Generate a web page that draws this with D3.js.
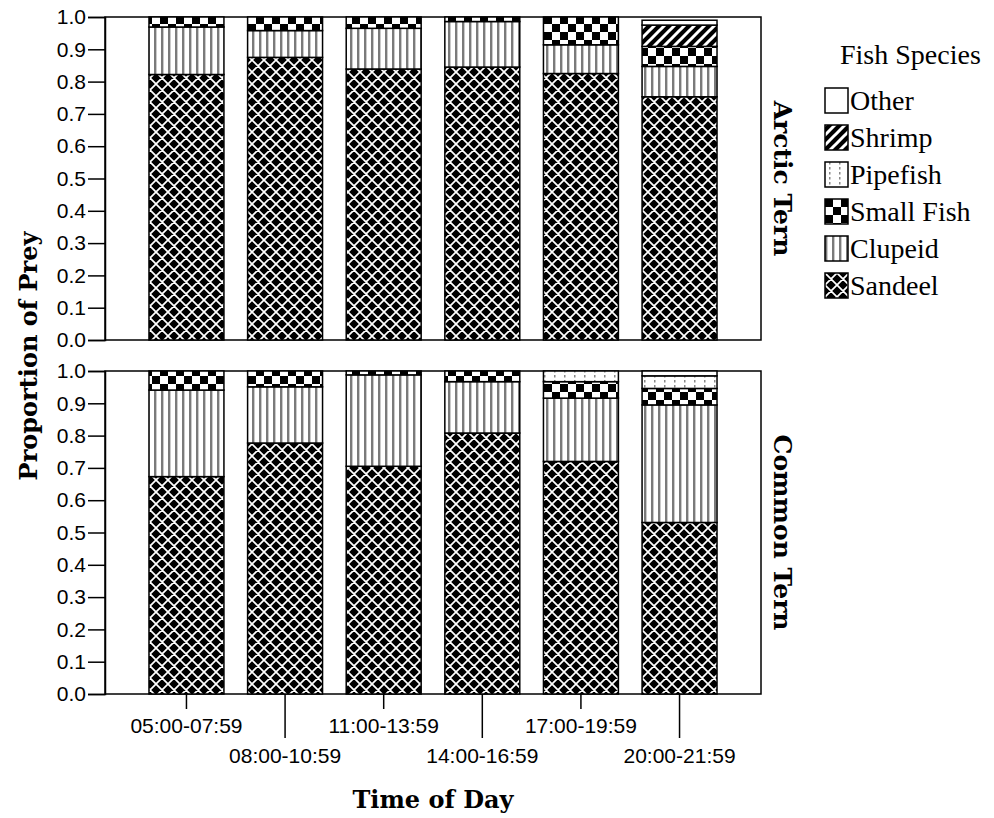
<!DOCTYPE html>
<html>
<head>
<meta charset="utf-8">
<script src="https://cdn.jsdelivr.net/npm/d3@7/dist/d3.min.js"></script>
<style>
  html, body { margin: 0; padding: 0; background: #fff; }
  svg { display: block; }
</style>
</head>
<body>
<svg id="chart" width="994" height="818"></svg>
<script>
// ---------- data ----------
const categories = ["05:00-07:59", "08:00-10:59", "11:00-13:59", "14:00-16:59", "17:00-19:59", "20:00-21:59"];
const species = ["Sandeel", "Clupeid", "Small Fish", "Pipefish", "Shrimp", "Other"];
const legendOrder = ["Other", "Shrimp", "Pipefish", "Small Fish", "Clupeid", "Sandeel"];
const panels = ["Arctic Tern", "Common Tern"];
const yTicks = [0, 0.1, 0.2, 0.3, 0.4, 0.5, 0.6, 0.7, 0.8, 0.9, 1.0];

// Arctic Tern proportions (per time band)
const arcticSandeel   = [0.822, 0.875, 0.839, 0.845, 0.825, 0.753];
const arcticClupeid   = [0.147, 0.083, 0.126, 0.141, 0.089, 0.094];
const arcticSmallFish = [0.031, 0.042, 0.035, 0.014, 0.086, 0.062];
const arcticPipefish  = [0, 0, 0, 0, 0, 0];
const arcticShrimp    = [0, 0, 0, 0, 0, 0.066];
const arcticOther     = [0, 0, 0, 0, 0, 0.015];

// Common Tern proportions
const commonSandeel   = [0.673, 0.777, 0.705, 0.808, 0.720, 0.531];
const commonClupeid   = [0.268, 0.174, 0.283, 0.159, 0.196, 0.364];
const commonSmallFish = [0.059, 0.049, 0.012, 0.033, 0.051, 0.051];
const commonPipefish  = [0, 0, 0, 0, 0.033, 0.039];
const commonShrimp    = [0, 0, 0, 0, 0, 0];
const commonOther     = [0, 0, 0, 0, 0, 0.015];

// ---------- build tables ----------
function buildRows(s) {
  return categories.map((c, i) => ({
    time: c,
    "Sandeel": s[0][i], "Clupeid": s[1][i], "Small Fish": s[2][i],
    "Pipefish": s[3][i], "Shrimp": s[4][i], "Other": s[5][i]
  }));
}
const tables = {
  "Arctic Tern": buildRows([arcticSandeel, arcticClupeid, arcticSmallFish, arcticPipefish, arcticShrimp, arcticOther]),
  "Common Tern": buildRows([commonSandeel, commonClupeid, commonSmallFish, commonPipefish, commonShrimp, commonOther])
};

// ---------- layout ----------
const svg = d3.select("#chart");
const left = 105, right = 761;
const panelBox = {
  "Arctic Tern": { top: 17, bottom: 340 },
  "Common Tern": { top: 371, bottom: 694 }
};
const tickFont = "'Liberation Sans', Arial, sans-serif";
const serifFont = "'DejaVu Serif', serif";
const legendFont = "'Liberation Serif', 'Times New Roman', serif";

// ---------- patterns ----------
const defs = svg.append("defs");
// Sandeel: black with white diamond lattice
(function () {
  const p = defs.append("pattern").attr("id", "pat-Sandeel")
    .attr("patternUnits", "userSpaceOnUse").attr("width", 12).attr("height", 12);
  p.append("rect").attr("width", 12).attr("height", 12).attr("fill", "#000");
  p.append("path").attr("d", "M0,0L12,12M12,0L0,12M-6,6L0,0M6,-6L0,0M12,12L18,6M6,18L12,12")
    .attr("stroke", "#fff").attr("stroke-width", 1.7).attr("fill", "none");
})();
// Clupeid: vertical stripes
(function () {
  const p = defs.append("pattern").attr("id", "pat-Clupeid")
    .attr("patternUnits", "userSpaceOnUse").attr("width", 7).attr("height", 7);
  p.append("rect").attr("width", 7).attr("height", 7).attr("fill", "#fff");
  p.append("rect").attr("x", 0).attr("width", 2.4).attr("height", 7).attr("fill", "#7a7a7a");
})();
// Small fish: checkerboard
(function () {
  const s = 8;
  const p = defs.append("pattern").attr("id", "pat-SmallFish")
    .attr("patternUnits", "userSpaceOnUse").attr("width", 2 * s).attr("height", 2 * s);
  p.append("rect").attr("width", 2 * s).attr("height", 2 * s).attr("fill", "#fff");
  p.append("rect").attr("width", s).attr("height", s).attr("fill", "#000");
  p.append("rect").attr("x", s).attr("y", s).attr("width", s).attr("height", s).attr("fill", "#000");
})();
// Pipefish: dotted vertical lines
(function () {
  const p = defs.append("pattern").attr("id", "pat-Pipefish")
    .attr("patternUnits", "userSpaceOnUse").attr("width", 10).attr("height", 5);
  p.append("rect").attr("width", 10).attr("height", 5).attr("fill", "#fff");
  p.append("rect").attr("x", 4).attr("y", 0).attr("width", 1.5).attr("height", 2.5).attr("fill", "#888");
})();
// Shrimp: black with white diagonal stripes
(function () {
  const p = defs.append("pattern").attr("id", "pat-Shrimp")
    .attr("patternUnits", "userSpaceOnUse").attr("width", 10).attr("height", 10);
  p.append("rect").attr("width", 10).attr("height", 10).attr("fill", "#000");
  p.append("path").attr("d", "M-2,12L12,-2M-7,7L7,-7M3,17L17,3")
    .attr("stroke", "#fff").attr("stroke-width", 3);
})();
const fillFor = sp => sp === "Other" ? "#fff" : `url(#pat-${sp.replace(" ", "")})`;

// ---------- scales ----------
const x = d3.scaleBand().domain(categories).range([left, right])
  .paddingInner(0.24).paddingOuter(0.446);
const stack = d3.stack().keys(species);

panels.forEach((name, pi) => {
  const box = panelBox[name];
  const y = d3.scaleLinear().domain([0, 1]).range([box.bottom, box.top]);
  const g = svg.append("g");

  // frame
  g.append("rect").attr("x", left).attr("y", box.top)
    .attr("width", right - left).attr("height", box.bottom - box.top)
    .attr("fill", "none").attr("stroke", "#000").attr("stroke-width", 1.5);

  // bars
  const series = stack(tables[name]);
  series.forEach(s => {
    g.append("g").selectAll("rect")
      .data(s.filter(d => d[1] - d[0] > 0))
      .join("rect")
      .attr("x", d => x(d.data.time))
      .attr("width", x.bandwidth())
      .attr("y", d => y(d[1]))
      .attr("height", d => y(d[0]) - y(d[1]))
      .attr("fill", fillFor(s.key))
      .attr("stroke", "#000").attr("stroke-width", 1.5);
  });

  // y axis
  const ya = g.append("g").attr("transform", `translate(${left},0)`)
    .call(d3.axisLeft(y).tickValues(yTicks).tickFormat(d3.format(".1f")).tickSize(17).tickPadding(2));
  ya.select(".domain").attr("stroke", "#000").attr("stroke-width", 1.5);
  ya.selectAll(".tick line").attr("stroke", "#000").attr("stroke-width", 1.5);
  ya.selectAll(".tick text").attr("font-family", tickFont).attr("font-size", 21).attr("fill", "#000");

  // facet label
  g.append("text")
    .attr("transform", `translate(783,${(box.top + box.bottom) / 2}) rotate(90)`)
    .attr("text-anchor", "middle").attr("dy", "0.35em")
    .attr("font-family", serifFont).attr("font-weight", "bold").attr("font-size", 25)
    .text(name);

  // x axis on bottom panel
  if (pi === panels.length - 1) {
    const xa = g.append("g").attr("transform", `translate(0,${box.bottom})`)
      .call(d3.axisBottom(x).tickSize(0).tickPadding(0));
    xa.select(".domain").remove();
    xa.selectAll(".tick line")
      .attr("y2", (d, i) => i % 2 === 0 ? 15 : 44)
      .attr("stroke", "#000").attr("stroke-width", 1.5);
    xa.selectAll(".tick text")
      .attr("y", (d, i) => i % 2 === 0 ? 39 : 69)
      .attr("dy", 0)
      .attr("font-family", tickFont).attr("font-size", 21).attr("fill", "#000");
  }
});

// axis titles
svg.append("text")
  .attr("x", (left + right) / 2).attr("y", 808)
  .attr("text-anchor", "middle")
  .attr("font-family", serifFont).attr("font-weight", "bold").attr("font-size", 24)
  .text("Time of Day");
svg.append("text")
  .attr("transform", "translate(37,356) rotate(-90)")
  .attr("text-anchor", "middle")
  .attr("font-family", serifFont).attr("font-weight", "bold").attr("font-size", 24)
  .text("Proportion of Prey");

// legend
const lg = svg.append("g");
lg.append("text").attr("x", 840).attr("y", 64)
  .attr("font-family", legendFont).attr("font-size", 28).text("Fish Species");
const item = lg.selectAll("g.item").data(legendOrder).join("g")
  .attr("class", "item")
  .attr("transform", (d, i) => `translate(825,${88 + i * 37})`);
item.append("rect").attr("width", 23).attr("height", 25)
  .attr("fill", d => fillFor(d)).attr("stroke", "#000").attr("stroke-width", 1.5);
item.append("text").attr("x", 25).attr("y", 22)
  .attr("font-family", legendFont).attr("font-size", 28).text(d => d);
</script>
</body>
</html>
